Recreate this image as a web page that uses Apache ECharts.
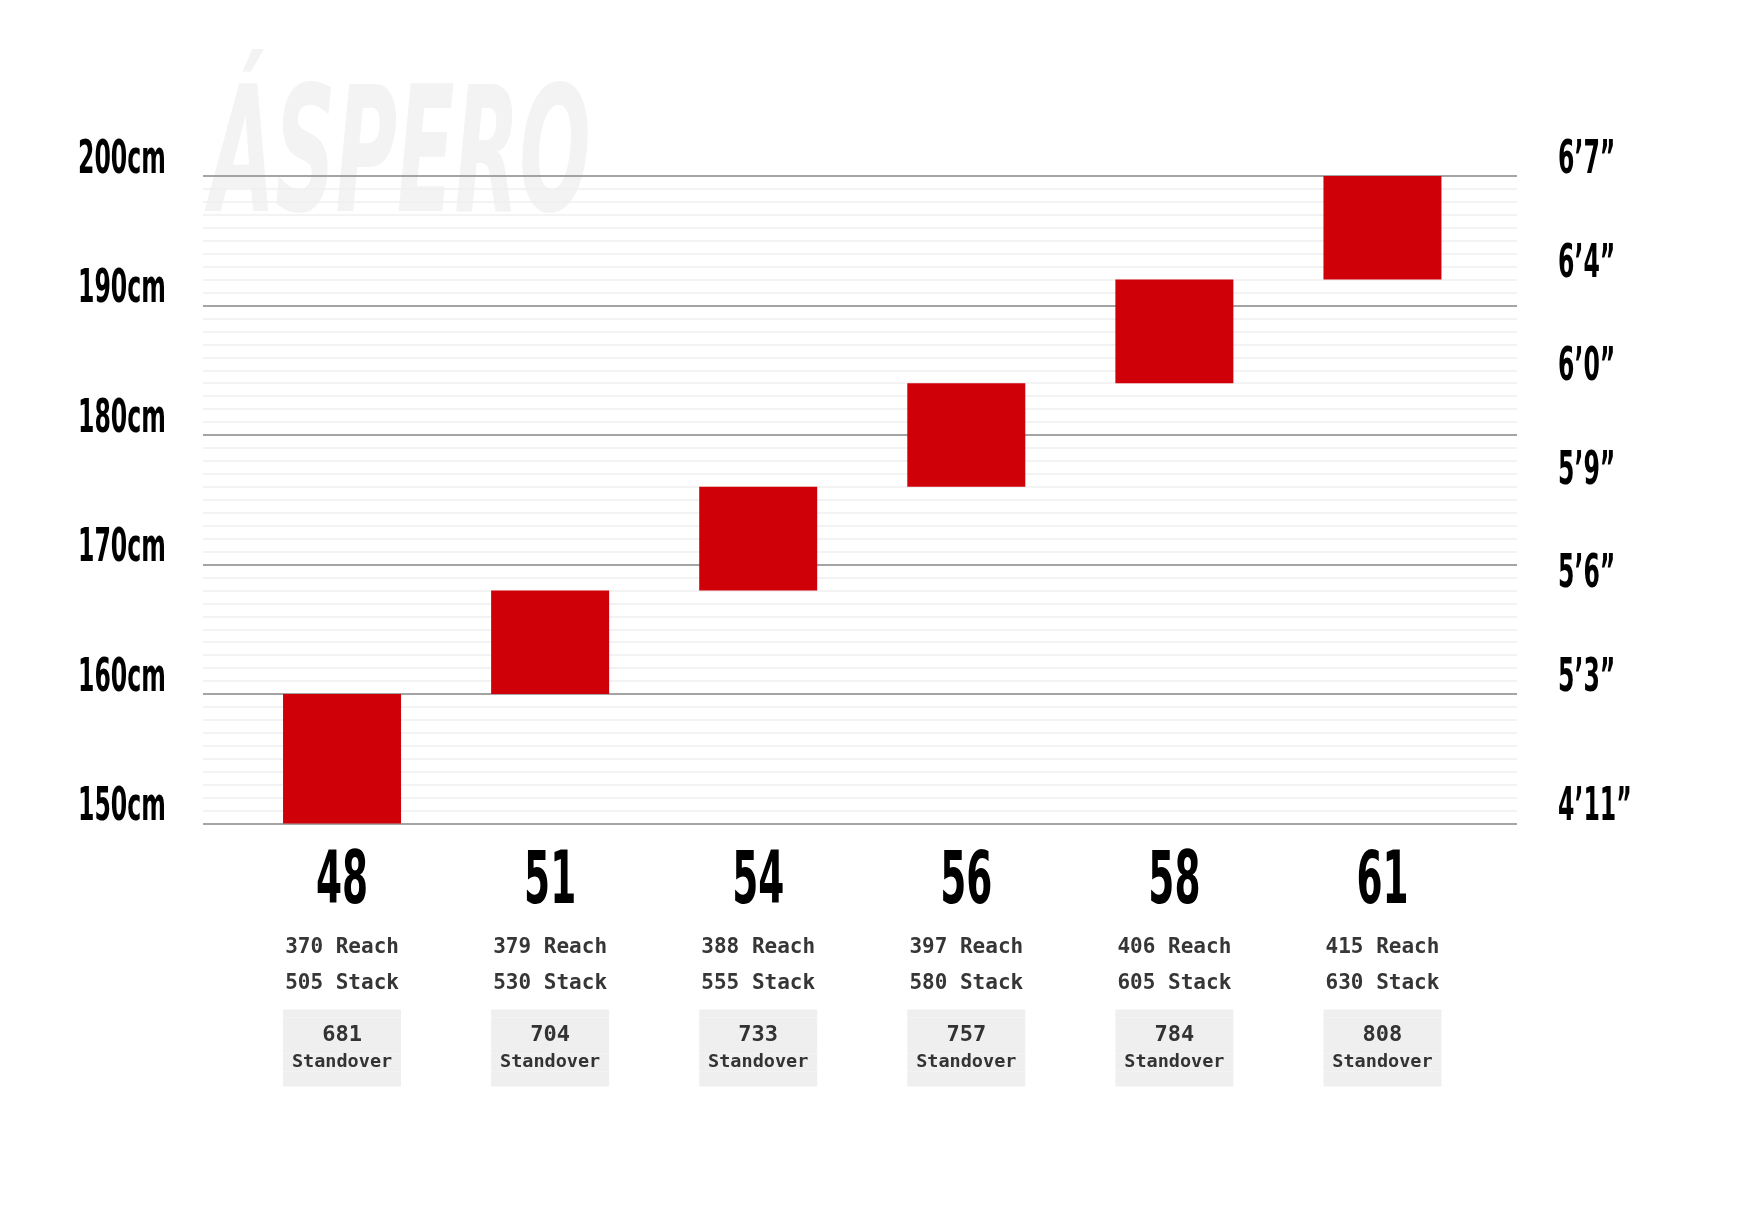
<!DOCTYPE html>
<html>
<head>
<meta charset="utf-8">
<script src="https://cdn.jsdelivr.net/npm/echarts@6/dist/echarts.min.js"></script>
<style>
html,body{margin:0;padding:0;background:#fff;}
#chart{width:1750px;height:1214px;}
</style>
</head>
<body>
<div id="chart"></div>
<script>
const sizes = ['48', '51', '54', '56', '58', '61'];
const heightMin = [150, 160, 168, 176, 184, 192];
const heightMax = [160, 168, 176, 184, 192, 200];
const reach = [370, 379, 388, 397, 406, 415];
const stack = [505, 530, 555, 580, 605, 630];
const standover = [681, 704, 733, 757, 784, 808];
const cmTicks = [150, 160, 170, 180, 190, 200];
const imperialTicks = [150, 160, 168, 176, 184, 192, 200];
const imperialLabels = ['4’11”', '5’3”', '5’6”', '5’9”', '6’0”', '6’4”', '6’7”'];
const watermark = 'ÁSPERO';

// condensed display face: draw DejaVu Sans Condensed text narrower around its anchor
const CONDENSE = 0.57;
const _fillText = CanvasRenderingContext2D.prototype.fillText;
CanvasRenderingContext2D.prototype.fillText = function (t, x, y) {
  if (this.font && this.font.indexOf('DejaVu Sans Condensed') >= 0) {
    this.save();
    this.translate(x, y);
    this.scale(CONDENSE, 1);
    _fillText.call(this, t, 0, 0);
    this.restore();
    return;
  }
  return _fillText.apply(this, arguments);
};

const COND = '"DejaVu Sans Condensed", sans-serif';
const MONO = '"DejaVu Sans Mono", "Liberation Mono", monospace';

const chart = echarts.init(document.getElementById('chart'));
const gridTop = 176, gridBottom = 390.5;
const BOX = '#efefef';

const option = {
  backgroundColor: '#ffffff',
  animation: false,
  graphic: [{
    type: 'text',
    z: -10,
    x: 210,
    y: 78,
    scaleX: 0.48,
    silent: true,
    style: {
      text: watermark,
      x: 0, y: 0,
      font: 'italic bold 175px "DejaVu Sans", sans-serif',
      fill: '#f3f3f3',
      textAlign: 'left',
      textVerticalAlign: 'top'
    }
  }],
  grid: [
    { left: 203, right: 233, top: gridTop, bottom: gridBottom },
    { left: 238, right: 263.5, top: gridTop, bottom: gridBottom }
  ],
  xAxis: [
    { type: 'value', gridIndex: 0, show: false, min: 0, max: 1 },
    {
      type: 'category', gridIndex: 1, data: sizes,
      axisLine: { show: false }, axisTick: { show: false },
      axisLabel: {
        interval: 0,
        margin: 26,
        formatter: function (v, i) {
          return '{size|' + v + '}\n{sp| }\n{txt|' + reach[i] + ' Reach}\n{txt|' + stack[i] + ' Stack}\n{sp2| }\n{bt| }\n{b1|' + standover[i] + '}\n{b2|Standover}\n{bb| }';
        },
        rich: {
          size: { fontFamily: COND, fontWeight: 'bold', fontSize: 73, color: '#000', lineHeight: 70, align: 'center' },
          sp: { fontSize: 1, lineHeight: 10 },
          txt: { fontFamily: MONO, fontWeight: 'bold', fontSize: 21, color: '#363636', lineHeight: 36, align: 'center' },
          sp2: { fontSize: 1, lineHeight: 8 },
          bt: { fontSize: 1, lineHeight: 8, height: 8, width: 118, backgroundColor: BOX, align: 'center' },
          b1: { fontFamily: MONO, fontWeight: 'bold', fontSize: 22, color: '#333', width: 118, lineHeight: 36, height: 36, backgroundColor: BOX, align: 'center' },
          b2: { fontFamily: MONO, fontWeight: 'bold', fontSize: 18.5, color: '#333', width: 118, lineHeight: 18, height: 18, backgroundColor: BOX, align: 'center' },
          bb: { fontSize: 1, lineHeight: 15, height: 15, width: 118, backgroundColor: BOX, align: 'center' }
        }
      }
    }
  ],
  yAxis: [
    {
      type: 'value', gridIndex: 0, position: 'left', min: 150, max: 200, interval: 10, z: 3,
      axisLine: { show: false }, axisTick: { show: false },
      splitLine: { show: true, lineStyle: { color: '#8a8a8a', width: 1.5 } },
      axisLabel: {
        showMinLabel: true, showMaxLabel: true,
        margin: 125, align: 'left', verticalAlign: 'bottom', lineHeight: 30,
        fontFamily: COND, fontWeight: 'bold', fontSize: 46, color: '#000',
        formatter: function (v) { return cmTicks.indexOf(v) >= 0 ? v + 'cm' : ''; }
      }
    },
    {
      type: 'value', gridIndex: 0, position: 'right', min: 150, max: 200, interval: 1, z: 1,
      axisLine: { show: false }, axisTick: { show: false },
      splitLine: { show: true, lineStyle: { color: '#efefef', width: 1.5 } },
      axisLabel: {
        showMinLabel: true, showMaxLabel: true,
        margin: 41, align: 'left', verticalAlign: 'bottom', lineHeight: 30,
        fontFamily: COND, fontWeight: 'bold', fontSize: 46, color: '#000',
        formatter: function (v) {
          const k = imperialTicks.indexOf(Math.round(v));
          return (k >= 0 && Math.abs(v - Math.round(v)) < 1e-6) ? imperialLabels[k] : '';
        }
      }
    },
    { type: 'value', gridIndex: 1, min: 150, max: 200, show: false }
  ],
  series: [
    {
      type: 'bar', xAxisIndex: 1, yAxisIndex: 2, stack: 'h', barWidth: 118,
      data: heightMin, itemStyle: { color: 'rgba(0,0,0,0)' }, silent: true, z: 5
    },
    {
      type: 'bar', xAxisIndex: 1, yAxisIndex: 2, stack: 'h', barWidth: 118,
      data: heightMax.map((m, i) => m - heightMin[i]),
      itemStyle: { color: '#d00008' }, z: 5
    }
  ]
};
chart.setOption(option);
</script>
</body>
</html>
